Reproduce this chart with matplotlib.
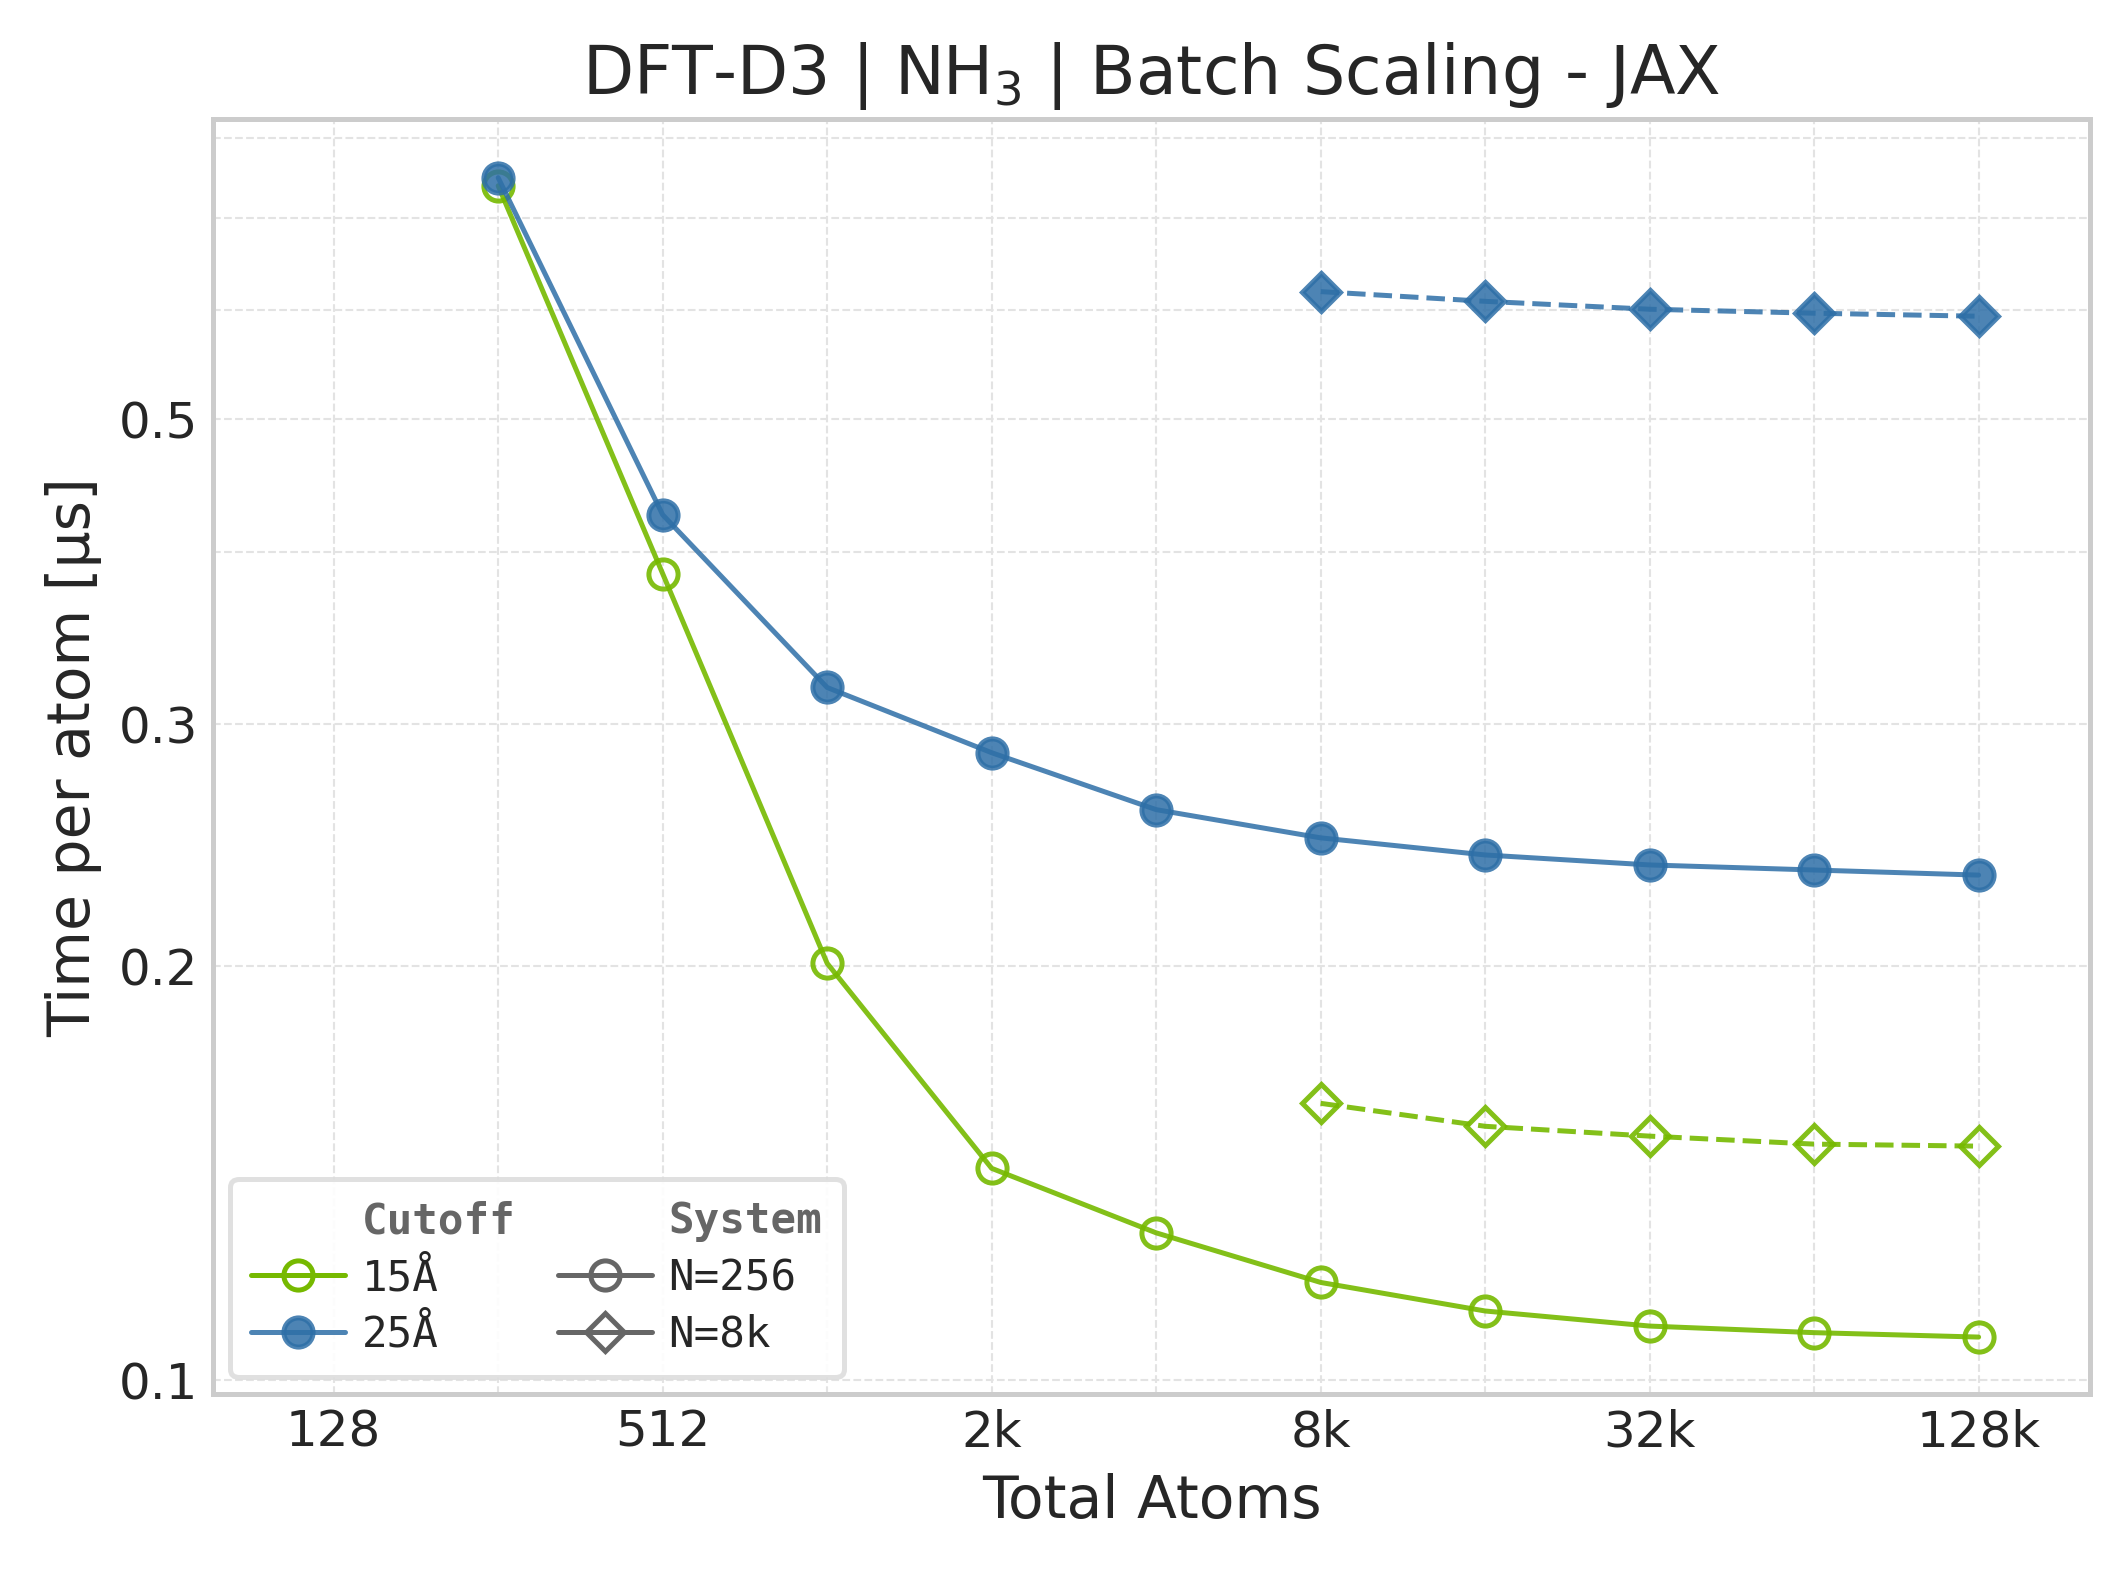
import numpy as np
import matplotlib
matplotlib.use("Agg")
from matplotlib import pyplot as plt
from matplotlib.lines import Line2D
import seaborn as sns

sns.set_style("whitegrid")
plt.rcParams['font.family'] = ['DejaVu Sans']

# total atoms
atoms_256 = [256, 512, 1024, 2048, 4096, 8192, 16384, 32768, 65536, 131072]
atoms_8k = [8192, 16384, 32768, 65536, 131072]

# time per atom [us]
t15_256 = [0.739, 0.386, 0.201, 0.1426, 0.128, 0.1178, 0.1123, 0.1095, 0.1083, 0.1075]
t25_256 = [0.749, 0.426, 0.319, 0.286, 0.260, 0.248, 0.241, 0.237, 0.235, 0.233]
t15_8k = [0.159, 0.153, 0.1505, 0.1485, 0.148]
t25_8k = [0.619, 0.609, 0.601, 0.597, 0.594]

xtick_vals = [128, 512, 2048, 8192, 32768, 131072]
xtick_labels = ["128", "512", "2k", "8k", "32k", "128k"]
ytick_vals = [0.1, 0.2, 0.3, 0.5]
ytick_labels = ["0.1", "0.2", "0.3", "0.5"]

green = "#76b900"
blue = "#2e6fa7"

fig = plt.figure(figsize=(2118 / 300, 1570 / 300), dpi=300)
ax = fig.add_axes([0.1006, 0.112, 0.8864, 0.812])

ax.plot(atoms_256, t15_256, '-', color=green, lw=1.2, marker='o', ms=7,
        mfc='none', mec=green, mew=1.2, alpha=0.9)
ax.plot(atoms_256, t25_256, '-', color=blue, lw=1.2, marker='o', ms=7,
        mfc=blue, mec=blue, mew=1.2, alpha=0.85)
ax.plot(atoms_8k, t15_8k, '--', color=green, lw=1.2, marker='D', ms=6.5,
        mfc='none', mec=green, mew=1.2, alpha=0.9)
ax.plot(atoms_8k, t25_8k, '--', color=blue, lw=1.2, marker='D', ms=6.5,
        mfc=blue, mec=blue, mew=1.2, alpha=0.85)

ax.set_xscale('log', base=2)
ax.set_yscale('log')
ax.set_xlim(77, 210000)
ax.set_ylim(0.0977, 0.826)

# grid at every power of two, labels on every other one
ax.set_xticks([2 ** k for k in range(7, 18)])
ax.set_xticklabels([xtick_labels[xtick_vals.index(2 ** k)] if 2 ** k in xtick_vals else ""
                    for k in range(7, 18)])
ax.xaxis.set_minor_locator(matplotlib.ticker.NullLocator())
ax.set_yticks(ytick_vals)
ax.set_yticklabels(ytick_labels)
ax.set_yticks([0.4, 0.6, 0.7, 0.8], minor=True)
ax.yaxis.set_minor_formatter(matplotlib.ticker.NullFormatter())
ax.tick_params(axis='both', which='both', labelsize=12, length=0, pad=3.5)

ax.grid(True, which='both', ls='--', lw=0.5, color='#e3e3e3')
for s in ax.spines.values():
    s.set_color('#cccccc')
    s.set_linewidth(1.2)

ax.set_xlabel("Total Atoms", fontsize=14)
ax.set_ylabel("Time per atom [µs]", fontsize=14)
ax.set_title("DFT-D3 | NH$_3$ | Batch Scaling - JAX", fontsize=16)

blank = Line2D([], [], color='none')
handles = [
    blank,
    Line2D([], [], color=green, lw=1.2, marker='o', ms=7, mfc='none', mec=green, mew=1.2),
    Line2D([], [], color=blue, lw=1.2, marker='o', ms=7, mfc=blue, mec=blue, mew=1.2, alpha=0.85),
    blank,
    Line2D([], [], color='#666666', lw=1.2, marker='o', ms=7, mfc='none', mec='#666666', mew=1.2),
    Line2D([], [], color='#666666', ls='-', lw=1.2, marker='D', ms=6.5, mfc='none', mec='#666666', mew=1.2),
]
labels = ["Cutoff", "15Å", "25Å", "System", "N=256", "N=8k"]
leg = ax.legend(handles, labels, loc='lower left', ncol=2, frameon=True,
                prop={'family': 'DejaVu Sans Mono', 'size': 10.2},
                handlelength=2.2, columnspacing=1.0, handletextpad=0.4,
                labelspacing=0.35, borderpad=0.5, borderaxespad=0.4)
leg.get_frame().set_edgecolor('#dddddd')
leg.get_frame().set_linewidth(1.2)
leg.get_frame().set_alpha(0.9)
for txt in leg.get_texts():
    if txt.get_text() in ("Cutoff", "System"):
        txt.set_fontweight('bold')
        txt.set_color('#666666')

fig.savefig("out.png", dpi=300)
